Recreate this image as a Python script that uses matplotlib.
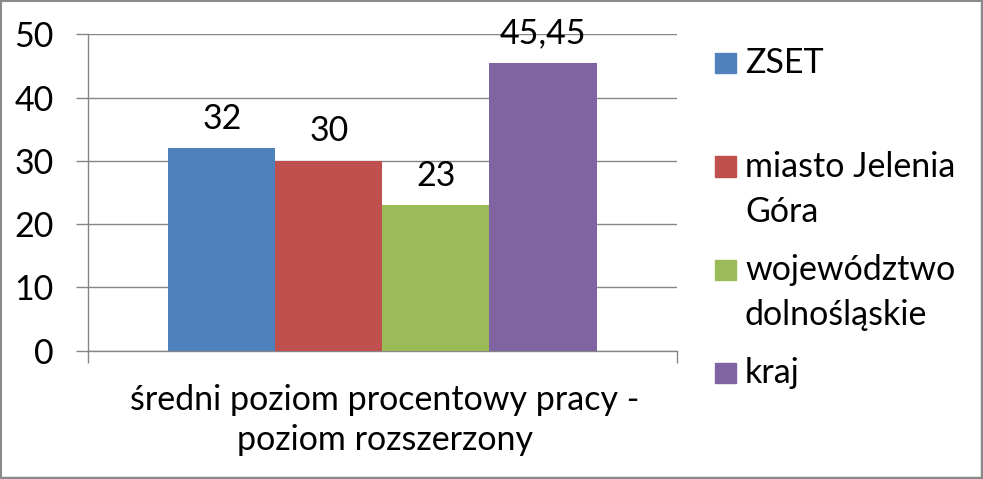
import matplotlib
matplotlib.use("Agg")
import matplotlib.pyplot as plt
from matplotlib.patches import Rectangle
from matplotlib.lines import Line2D

series = ["ZSET", "miasto Jelenia\nGóra", "województwo\ndolnośląskie", "kraj"]
values = [32, 30, 23, 45.45]
value_labels = ["32", "30", "23", "45,45"]
colors = ["#4F81BD", "#C0504D", "#9BBB59", "#8064A2"]
category = "średni poziom procentowy pracy -\npoziom rozszerzony"
yticks = [0, 10, 20, 30, 40, 50]

plt.rcParams['font.family'] = ['Lato', 'DejaVu Sans']
FS = 24.5

W, H = 983, 479
fig = plt.figure(figsize=(W / 100, H / 100), dpi=100)
fig.patch.set_facecolor("white")

def fx(px):
    return px / W

def fy(py):
    return 1 - py / H

x0, x1 = 88, 677
y0, y1 = 350.5, 34.3
ax = fig.add_axes([fx(x0), fy(y0), (x1 - x0) / W, (y0 - y1) / H])

bw = 1.0
n = len(values)
pos = [(i - (n - 1) / 2) * bw for i in range(n)]
half = (x1 - x0) / 107.0 / 2
ax.set_xlim(-half, half)
ax.set_ylim(0, 50)

ax.bar(pos, values, width=bw, color=colors, zorder=3)
for p, v, lab in zip(pos, values, value_labels):
    ax.annotate(lab, (p, v), xytext=(0, 19.5), textcoords="offset pixels",
                ha="center", va="baseline", fontsize=FS, color="black")

ax.set_yticks(yticks)
ax.set_yticklabels([str(t) for t in yticks], fontsize=FS)
ax.yaxis.grid(True, color="#868686", linewidth=1.0, zorder=0)
ax.tick_params(axis="y", direction="out", length=8.6, width=1.0, color="#868686", pad=16)

ax.set_xticks([0])
ax.set_xticklabels([""])
ax.tick_params(axis="x", which="major", length=0)
ax.set_xticks([-half, half], minor=True)
ax.tick_params(axis="x", which="minor", direction="out", length=8.6, width=1.0, color="#868686")

for s in ["top", "right"]:
    ax.spines[s].set_visible(False)
for s in ["left", "bottom"]:
    ax.spines[s].set_color("#868686")
    ax.spines[s].set_linewidth(1.0)

# category label, two lines
cat_baselines = [410, 450]
for line, b in zip(category.split("\n"), cat_baselines):
    fig.text(fx(385), fy(b), line, ha="center", va="baseline", fontsize=FS)

# legend
leg_base = [73, 177, 280, 383]
for lab, c, b in zip(series, colors, leg_base):
    fig.add_artist(Rectangle((fx(715), fy(b)), 21 / W, 20.5 / H,
                             transform=fig.transFigure, color=c))
    for k, line in enumerate(lab.split("\n")):
        fig.text(fx(745), fy(b + 45 * k), line, ha="left", va="baseline", fontsize=FS)

# border
g = "#8A8A8A"
fig.add_artist(Line2D([fx(1), fx(1)], [0, 1], transform=fig.transFigure, color=g, lw=1.5))
fig.add_artist(Line2D([0, 1], [fy(1), fy(1)], transform=fig.transFigure, color=g, lw=1.5))
fig.add_artist(Line2D([fx(981.5), fx(981.5)], [0, 1], transform=fig.transFigure, color=g, lw=2.5))
fig.add_artist(Line2D([0, 1], [fy(477.5), fy(477.5)], transform=fig.transFigure, color=g, lw=2.5))

fig.savefig("out.png", dpi=100, facecolor="white")
